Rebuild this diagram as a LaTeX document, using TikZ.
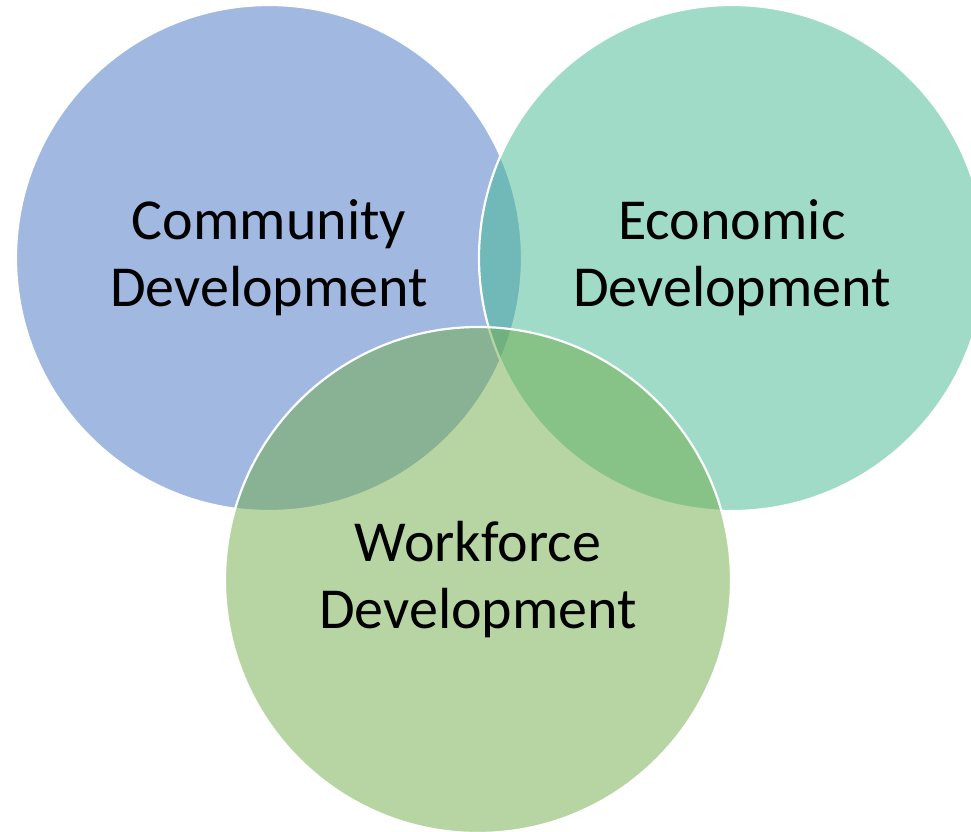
\documentclass[tikz,border=0pt]{standalone}
\usepackage{fontspec}
\setmainfont{Carlito}
\usepackage{tikz}
\definecolor{commblue}{HTML}{4472C4}
\definecolor{econteal}{HTML}{43B991}
\definecolor{workgreen}{HTML}{70AD47}
\tikzstyle{venn} = [circle, minimum size=506pt, inner sep=0pt, draw=white, line width=2.2pt, fill opacity=0.5, text opacity=1, align=center, font=\fontsize{58}{67}\selectfont]

\begin{document}
\begin{tikzpicture}[x=1pt,y=-1pt]

\clip (0,0) rectangle (971,831);
\fill[white] (0,0) rectangle (971,831);

\node (comm) [venn, fill=commblue] at (269,258) {Community\\Development};
\node (econ) [venn, fill=econteal] at (732,258) {Economic\\Development};
\node (work) [venn, fill=workgreen] at (478,580) {Workforce\\Development};

\end{tikzpicture}
\end{document}
